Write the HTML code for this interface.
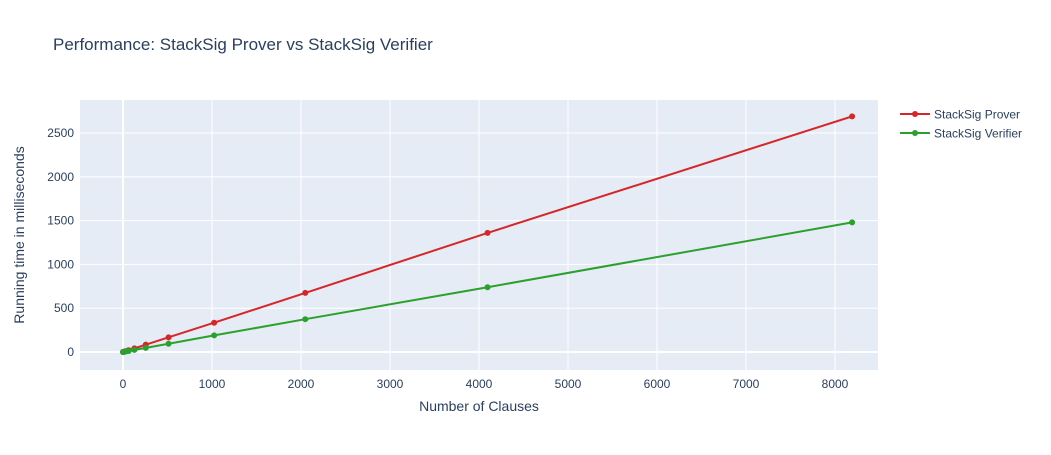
<!DOCTYPE html>
<html><head><meta charset="utf-8"><style>
body{margin:0;background:#fff;font-family:"Liberation Sans",Arial,sans-serif;}
svg text{font-family:"Liberation Sans",Arial,sans-serif;}
</style></head><body>
<svg id="chart" width="1051" height="450">
<rect x="0" y="0" width="1051" height="450" fill="#fff"/>
<text x="53" y="50" font-size="17" fill="#2a3f5f">Performance: StackSig Prover vs StackSig Verifier</text>
<rect x="80" y="100" width="798" height="270" fill="#e5ecf6"/>
<g id="grid"></g><g id="series"></g><g id="ticks"></g>
<text x="479" y="411" font-size="14" fill="#2a3f5f" text-anchor="middle">Number of Clauses</text>
<text transform="translate(24,235) rotate(-90)" font-size="14" fill="#2a3f5f" text-anchor="middle">Running time in milliseconds</text>
<g>
<g><line x1="900" y1="114" x2="930" y2="114" stroke="#d62728" stroke-width="2"/><circle cx="915" cy="114" r="3" fill="#d62728"/><text x="934" y="118.5" font-size="12" fill="#2a3f5f">StackSig Prover</text></g>
<g><line x1="900" y1="133" x2="930" y2="133" stroke="#2ca02c" stroke-width="2"/><circle cx="915" cy="133" r="3" fill="#2ca02c"/><text x="934" y="137.5" font-size="12" fill="#2a3f5f">StackSig Verifier</text></g>
</g>
</svg>
<script>
const clauses=[1,2,4,8,16,32,64,128,256,512,1024,2048,4096,8192];
const prover=[0.3,0.7,1.3,2.7,5.3,10.5,21,42,84,168,335,675,1360,2690];
const verifier=[0.2,0.4,0.7,1.5,3,6,12,25,48,95,190,375,740,1480];
const xTicks=[0,1000,2000,3000,4000,5000,6000,7000,8000];
const yTicks=[0,500,1000,1500,2000,2500];
const X0=80,X1=878,Y0=370,Y1=100,xMin=-483,xMax=8483,yMin=-205,yMax=2877;
const sx=v=>X0+(v-xMin)/(xMax-xMin)*(X1-X0);
const sy=v=>Y0-(v-yMin)/(yMax-yMin)*(Y0-Y1);
const NS="http://www.w3.org/2000/svg";
function mk(t,a,p){const e=document.createElementNS(NS,t);for(const k in a)e.setAttribute(k,a[k]);p.appendChild(e);return e;}
const grid=document.getElementById('grid'),ticks=document.getElementById('ticks'),ser=document.getElementById('series');
xTicks.forEach(v=>{const l=mk('line',{x1:sx(v),x2:sx(v),y1:Y1,y2:Y0,stroke:'#fff','stroke-width':v===0?2:1},grid);


const t=mk('text',{x:sx(v),y:388,'font-size':12,fill:'#2a3f5f','text-anchor':'middle'},ticks);t.textContent=v;

});
yTicks.forEach(v=>{const l=mk('line',{x1:X0,x2:X1,y1:sy(v),y2:sy(v),stroke:'#fff','stroke-width':v===0?2:1},grid);


const t=mk('text',{x:74,y:sy(v)+4,'font-size':12,fill:'#2a3f5f','text-anchor':'end'},ticks);t.textContent=v;

});
function draw(vals,col,name){const g=mk('g',{},ser);


const p=mk('polyline',{points:clauses.map((c,i)=>sx(c)+','+sy(vals[i])).join(' '),fill:'none',stroke:col,'stroke-width':2},g);


clauses.forEach((c,i)=>{const d=mk('circle',{cx:sx(c),cy:sy(vals[i]),r:3,fill:col},g);

});}
draw(prover,'#d62728','prover');
draw(verifier,'#2ca02c','verifier');
</script>
</body></html>
